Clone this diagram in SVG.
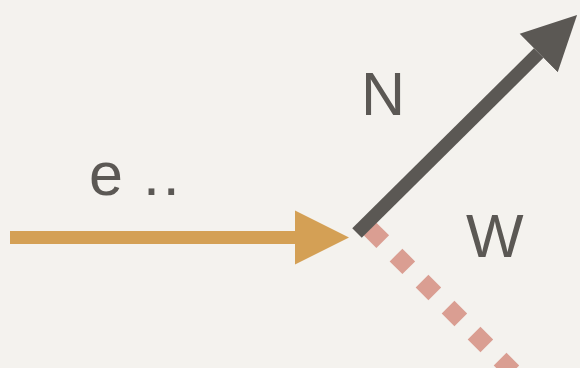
<svg xmlns="http://www.w3.org/2000/svg" width="580" height="368" viewBox="0 0 580 368">
  <style>
    .lbl { font-family: "Liberation Sans", "DejaVu Sans", sans-serif; font-size: 61px; fill: #5b5854; }
    .conn { fill: none; stroke-linecap: butt; }
  </style>
  <defs>
    <marker id="headOrange" markerUnits="userSpaceOnUse" markerWidth="56" markerHeight="56" refX="0" refY="27" orient="auto" viewBox="0 0 56 54">
      <path d="M0,0 L54,27 L0,54 Z" fill="#d4a055"/>
    </marker>
    <marker id="headDark" markerUnits="userSpaceOnUse" markerWidth="56" markerHeight="56" refX="0" refY="27" orient="auto" viewBox="0 0 56 54">
      <path d="M0,0 L54,27 L0,54 Z" fill="#5b5854"/>
    </marker>
  </defs>
  <rect width="580" height="368" fill="#f4f2ee"/>
  <g id="connectors">
    <line class="conn" x1="370" y1="229" x2="525" y2="384" stroke="#d8998c" stroke-width="18" stroke-dasharray="18 18.8" opacity="0.95"/>
    <line class="conn" x1="10" y1="237.5" x2="295" y2="237.5" stroke="#d4a055" stroke-width="13" marker-end="url(#headOrange)"/>
    <line class="conn" x1="357" y1="233" x2="538.7" y2="53" stroke="#5b5854" stroke-width="13.5" marker-end="url(#headDark)"/>
  </g>
  <g id="label-e">
    <text class="lbl" x="89" y="195">e <tspan dx="3">.</tspan><tspan dx="3">.</tspan></text>
  </g>
  <g id="label-N">
    <text class="lbl" x="361" y="115">N</text>
  </g>
  <g id="label-W">
    <text class="lbl" x="466" y="257">W</text>
  </g>
</svg>
